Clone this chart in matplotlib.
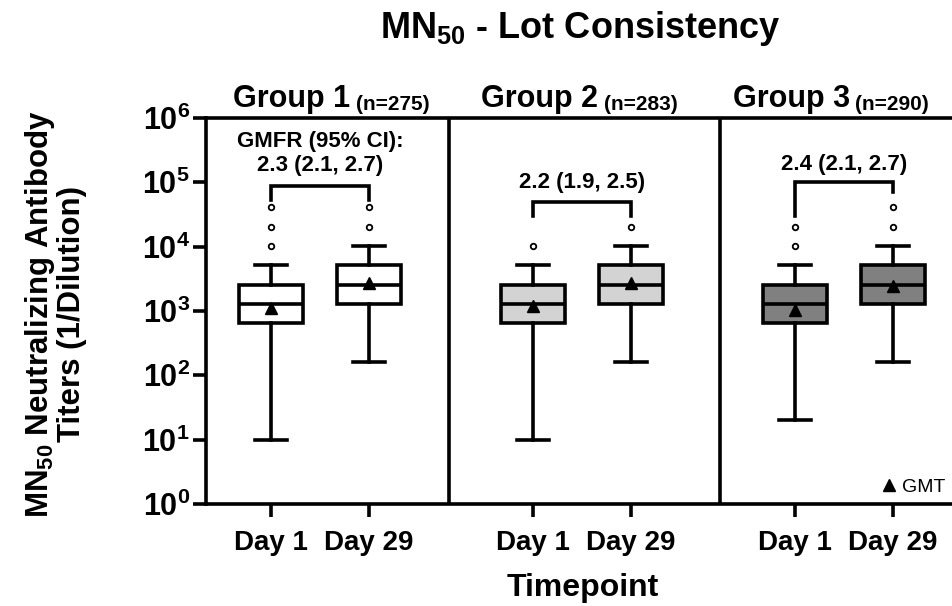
import numpy as np
import matplotlib
matplotlib.use("Agg")
import matplotlib.pyplot as plt

plt.rcParams["font.family"] = ["Liberation Sans", "DejaVu Sans"]
plt.rcParams["font.weight"] = "bold"
plt.rcParams["mathtext.fontset"] = "custom"
plt.rcParams["mathtext.rm"] = "Liberation Sans:bold"
plt.rcParams["mathtext.bf"] = "Liberation Sans:bold"
plt.rcParams["mathtext.it"] = "Liberation Sans:bold"

# data (titers, 1/dilution)
groups = ["Group 1", "Group 2", "Group 3"]
n_text = ["(n=275)", "(n=283)", "(n=290)"]
days = ["Day 1", "Day 29"]
q1 = [640, 1280, 640, 1280, 640, 1280]
med = [1280, 2560, 1280, 2560, 1280, 2560]
q3 = [2560, 5120, 2560, 5120, 2560, 5120]
whislo = [10, 160, 10, 160, 20, 160]
whishi = [5120, 10240, 5120, 10240, 5120, 10240]
gmt = [1125, 2760, 1210, 2760, 1040, 2470]
fliers = [[10240, 20480, 40960], [20480, 40960], [10240], [20480],
          [10240, 20480], [20480, 40960]]
gmfr = ["GMFR (95% CI):\n2.3 (2.1, 2.7)", "2.2 (1.9, 2.5)", "2.4 (2.1, 2.7)"]
colors = ["white", "#d3d3d3", "#808080"]

# bracket heights (top, left leg, right leg) and label heights
br_top = [8.8e4, 5.0e4, 1.0e5]
br_left = [5.3e4, 3.0e4, 3.0e4]
br_right = [5.3e4, 3.0e4, 7.2e4]
txt_y = [2.8e5, 1.01e5, 1.86e5]

group_x = [0, 2.673, 5.347]
pos = [g + d for g in group_x for d in (0, 1.0)]

fig = plt.figure(figsize=(9.53, 6.06), dpi=100)
ax = fig.add_axes([206/953, 1-504/606, 1-206/953, 386/606])

stats = []
for i in range(6):
    stats.append(dict(med=med[i], q1=q1[i], q3=q3[i], whislo=whislo[i],
                      whishi=whishi[i], fliers=fliers[i], mean=gmt[i]))

lw = 2.6
bp = ax.bxp(stats, positions=pos, widths=0.65, capwidths=0.33,
            patch_artist=True, showmeans=True,
            boxprops=dict(linewidth=lw, edgecolor="black"),
            whiskerprops=dict(linewidth=lw, color="black"),
            capprops=dict(linewidth=lw, color="black"),
            medianprops=dict(linewidth=lw, color="black"),
            meanprops=dict(marker="^", markerfacecolor="black",
                           markeredgecolor="black", markersize=9),
            flierprops=dict(marker="o", markerfacecolor="white",
                            markeredgecolor="black", markersize=4,
                            markeredgewidth=1.3))
for i, patch in enumerate(bp["boxes"]):
    patch.set_facecolor(colors[i // 2])

# brackets + GMFR labels
for g in range(3):
    x1, x2 = pos[2*g], pos[2*g+1]
    ax.plot([x1, x1, x2, x2], [br_left[g], br_top[g], br_top[g], br_right[g]],
            color="black", lw=lw, solid_joinstyle="miter")
    ax.text((x1+x2)/2, txt_y[g], gmfr[g], ha="center", va="center",
            fontsize=16, linespacing=1.15)

# group titles
trans = ax.get_xaxis_transform()
title_right = [0.806, 3.337, 5.908]
for g in range(3):
    t = ax.text(title_right[g], 1.029, groups[g], transform=trans,
                ha="right", va="baseline", fontsize=22)
    ax.annotate(n_text[g], xy=(1, 0), xycoords=t, xytext=(4, 0),
                textcoords="offset points", ha="left", va="bottom",
                fontsize=15)

# panel dividers
for xd in [1.816, 4.58]:
    ax.axvline(xd, color="black", lw=lw)

ax.set_yscale("log")
ax.set_ylim(1, 1e6)
ax.set_xlim(-0.663, 6.96)
ax.set_yticks([10.0**k for k in range(7)])
ax.set_yticklabels([r"$\mathbf{10^{%d}}$" % k for k in range(7)], fontsize=22)
ax.yaxis.set_minor_locator(matplotlib.ticker.NullLocator())
ax.set_xticks(pos)
ax.set_xticklabels(days * 3, fontsize=20)
ax.tick_params(axis="both", width=lw, length=9.5, color="black")
ax.tick_params(axis="y", pad=2)
ax.tick_params(axis="x", pad=9)
for s in ["left", "bottom", "top"]:
    ax.spines[s].set_linewidth(lw)
ax.spines["right"].set_visible(False)

ax.plot([], [], "^", color="black", markersize=9, label="GMT")
ax.legend(loc="lower right", frameon=False, handlelength=0.7,
          handletextpad=0.3, borderaxespad=0.0,
          prop=dict(family="Liberation Sans", weight="normal", size=14))

fig.text(580/953, 1-28/606, r"MN$_{50}$ - Lot Consistency", ha="center",
         va="center", fontsize=26)
fig.text(55/953, 1-314/606, "MN$_{50}$ Neutralizing Antibody\nTiters (1/Dilution)",
         rotation=90, ha="center", va="center", fontsize=22.5, linespacing=1.0)
fig.text(583/953, 1-588/606, "Timepoint", ha="center", va="center", fontsize=23)

fig.savefig("out.png", dpi=100)
